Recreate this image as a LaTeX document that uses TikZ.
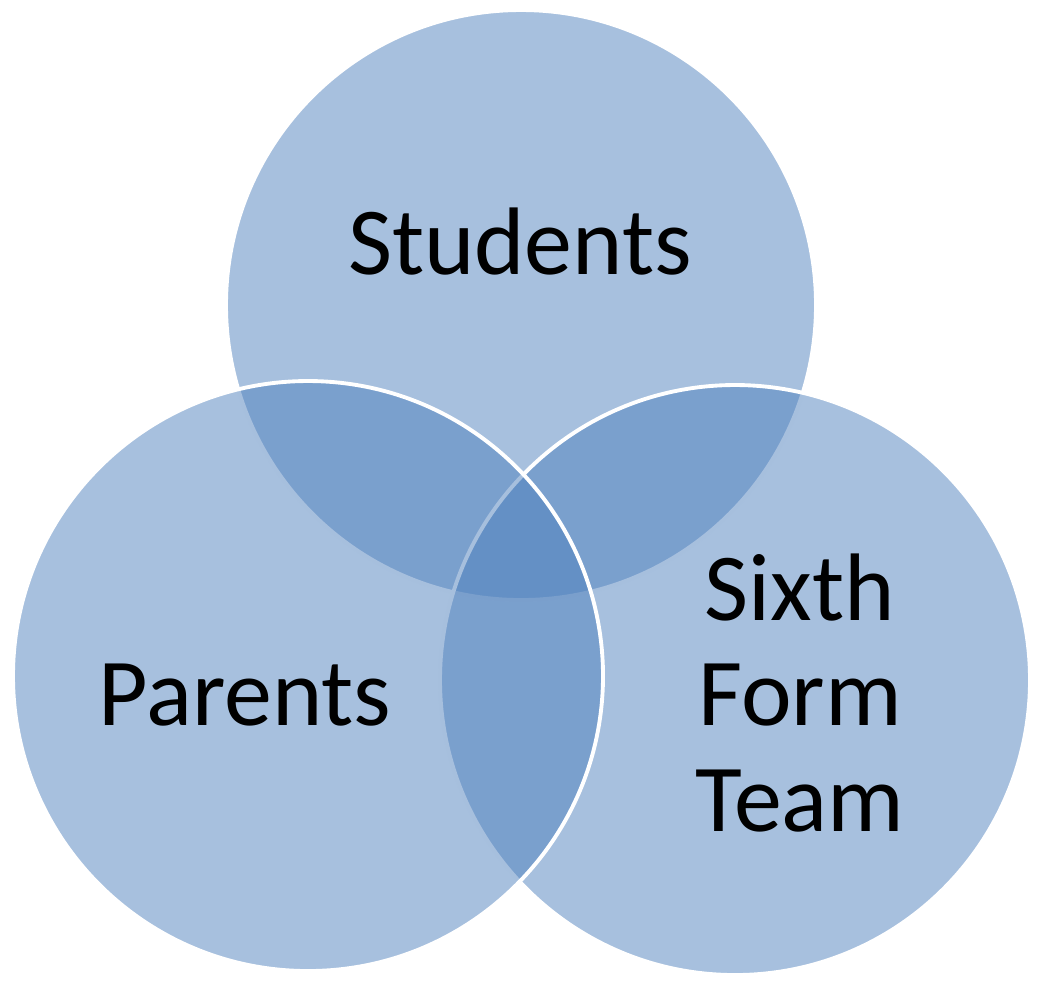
\documentclass[tikz,border=0pt]{standalone}
\usepackage{fontspec}
\setmainfont{Carlito}
\definecolor{vennblue}{RGB}{79,129,189}
\tikzset{
  venn/.style={circle, inner sep=0pt, minimum size=5.9cm, fill=vennblue,
    fill opacity=0.5, draw=white, draw opacity=1, line width=1.1pt},
  vennlabel/.style={font=\fontsize{27.3}{30}\selectfont, align=center, text=black}
}
\begin{document}
\begin{tikzpicture}
            \useasboundingbox (0,0) rectangle (10.37,-9.80);
            \node[venn] (students) at (5.21,-3.05) {};
            \node[venn] (team) at (7.35,-6.80) {};
            \node[venn] (parents) at (3.08,-6.76) {};
            \node[vennlabel] (studentsText) at (5.20,-2.42) {Students};
            \node[vennlabel] (parentsText) at (2.45,-6.95) {Parents};
            \node[vennlabel] (teamText) at (8.00,-6.93) {Sixth\\Form\\Team};
        \end{tikzpicture}
\end{document}
